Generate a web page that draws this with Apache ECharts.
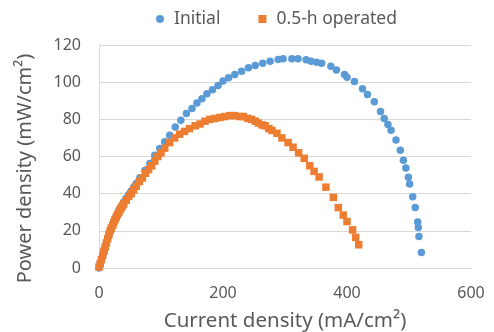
<!DOCTYPE html>
<html>
<head>
<meta charset="utf-8">
<script src="https://cdn.jsdelivr.net/npm/echarts@6/dist/echarts.min.js"></script>
<style>
  html, body { margin: 0; padding: 0; background: #fff; }
  #chart { width: 494px; height: 332px; }
</style>
</head>
<body>
<div id="chart"></div>
<script>
// current density (mA/cm2) and power density (mW/cm2)
const initialCurrent = [0, 2, 4, 6, 8, 10, 12, 14, 16, 18, 20, 22, 24, 26, 28, 30, 32, 34, 36, 38,
  40, 44, 48, 52, 56, 60, 66, 74, 82, 90,
  98, 106, 114, 123, 132, 141, 150, 158, 166, 174, 183, 192, 200, 209, 219, 230, 241, 252, 264, 276,
  289, 297, 311, 321, 334, 342, 351, 359, 374, 383, 396, 400, 412, 425, 433, 444, 454, 460, 466, 471,
  479, 486, 491, 495, 499, 501, 506, 510, 514, 515, 516, 520];
const initialPower = [0, 2.3, 4.5, 6.8, 9, 11.3, 13.5, 15.8, 18, 20, 21.5, 23.3, 25, 26.5, 28, 29.3, 30.5, 31.8, 33, 34.3,
  35.5, 37.5, 39.5, 41.5, 43.5, 45.5, 48.5, 52.5, 56.3, 60.7,
  64.3, 67.9, 71.4, 75.9, 79.5, 83.1, 85.8, 88.8, 91.1, 93.8, 95.9, 98.2, 100.6, 102.4, 104.1, 105.9, 107.7, 109, 110.2, 111.3,
  112.2, 112.6, 112.6, 112.6, 112, 111.3, 110.7, 110.2, 108.6, 106.5, 104.1, 102.7, 100.4, 96.5, 93.4, 89.5, 84.2, 80.4, 77.2, 74.1,
  68.9, 63.4, 58, 53.8, 48.9, 45.2, 38.4, 32.5, 24.7, 21.8, 16.9, 8.4];

const operatedCurrent = [0, 2, 4, 6, 8, 10, 12, 14, 16, 18, 20, 22, 24, 26, 28, 30, 32, 34, 36, 38,
  40, 44, 48, 52, 56, 60, 65, 70, 75, 80,
  85, 90, 95, 100, 106, 114, 122, 130, 138, 146, 155, 163, 171, 179, 187, 195, 203, 211, 219, 227,
  233, 240, 246, 252, 257, 263, 268, 274, 279, 287, 295, 305, 313, 322, 331, 340, 347, 355, 366, 378,
  386, 394, 400, 409, 414, 419];
const operatedPower = [0.5, 2.3, 4.5, 6.8, 9, 11.3, 13.5, 15.8, 18, 20, 21.5, 23, 24.5, 26, 27.5, 28.8, 30, 31.3, 32.5, 33.5,
  34.5, 36.5, 38.5, 40, 42, 44, 46.5, 48.5, 51, 53,
  55, 57.5, 60, 62, 64.5, 67.5, 70, 72, 73.5, 75, 76.5, 77.5, 79, 80, 80.5, 81, 81.5, 82, 82, 81.5,
  81.5, 80.5, 80, 79, 78, 77, 76.5, 75, 74, 72.5, 70, 67.5, 65, 62, 59, 55, 52, 49, 43.5, 38,
  32.5, 28.5, 25, 20.5, 16.5, 12.5];

const xTicks = [0, 200, 400, 600];
const yTicks = [0, 20, 40, 60, 80, 100, 120];

const pair = (xs, ys) => xs.map((x, i) => [x, ys[i]]);

const txt = '#595959';
const font = 'Noto Sans';
const myChart = echarts.init(document.getElementById('chart'));
myChart.setOption({
  animation: false,
  textStyle: { fontFamily: font },
  legend: {
    top: 5,
    left: 151,
    itemGap: 38,
    itemWidth: 8,
    itemHeight: 8,
    textStyle: { color: txt, fontSize: 17.5, fontFamily: font, padding: [0, 0, 0, 5] },
    data: [
      { name: 'Initial', icon: 'circle' },
      { name: '0.5-h operated', icon: 'rect' },
    ],
  },
  grid: { left: 99, right: 23, top: 45, bottom: 64, outerBoundsMode: 'none' },
  xAxis: {
    type: 'value',
    min: xTicks[0],
    max: xTicks[xTicks.length - 1],
    interval: 200,
    name: 'Current density (mA/cm²)',
    nameLocation: 'middle',
    nameGap: 43,
    nameTextStyle: { color: txt, fontSize: 20.5, fontFamily: font },
    axisLine: { show: true, lineStyle: { color: '#d9d9d9' } },
    axisTick: { show: false },
    splitLine: { show: false },
    axisLabel: { color: txt, fontSize: 16, margin: 17, fontFamily: font },
  },
  yAxis: {
    type: 'value',
    min: yTicks[0],
    max: yTicks[yTicks.length - 1],
    interval: 20,
    name: 'Power density (mW/cm²)',
    nameLocation: 'middle',
    nameGap: 64,
    nameTextStyle: { color: txt, fontSize: 20, fontFamily: font, padding: [0, 24, 0, 0] },
    axisLine: { show: true, lineStyle: { color: '#d9d9d9' } },
    axisTick: { show: false },
    splitLine: { lineStyle: { color: '#d9d9d9' } },
    axisLabel: { color: txt, fontSize: 16, margin: 18, fontFamily: font },
  },
  series: [
    {
      name: 'Initial',
      type: 'scatter',
      symbol: 'circle',
      symbolSize: 7.5,
      itemStyle: { color: '#5b9bd5', opacity: 1 },
      data: pair(initialCurrent, initialPower),
    },
    {
      name: '0.5-h operated',
      type: 'scatter',
      symbol: 'rect',
      symbolSize: 7.5,
      itemStyle: { color: '#ed7d31', opacity: 1 },
      data: pair(operatedCurrent, operatedPower),
    },
  ],
});
</script>
</body>
</html>
